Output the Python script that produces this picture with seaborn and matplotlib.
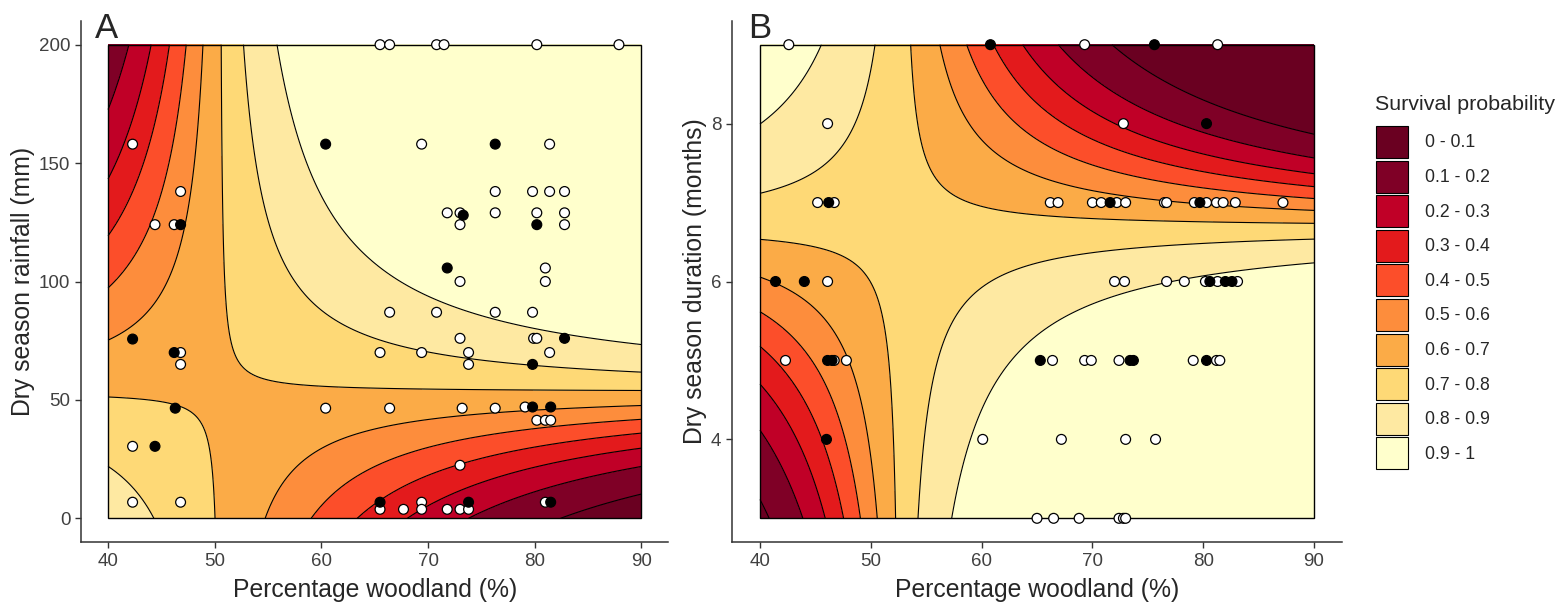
import numpy as np
import pandas as pd
import matplotlib.pyplot as plt
import seaborn as sns
from matplotlib.patches import Patch, Rectangle

# klassen survival probability en kleuren
prob_breaks = [0, 0.1, 0.2, 0.3, 0.4, 0.5, 0.6, 0.7, 0.8, 0.9, 1.0]
class_labels = ['0 - 0.1', '0.1 - 0.2', '0.2 - 0.3', '0.3 - 0.4', '0.4 - 0.5',
                '0.5 - 0.6', '0.6 - 0.7', '0.7 - 0.8', '0.8 - 0.9', '0.9 - 1']
class_colours = ['#6a0021', '#7f0026', '#c00027', '#e31a1c', '#fc4e2a',
                 '#fd8d3c', '#fbab47', '#fed976', '#fee9a2', '#ffffcc']

# logistische modellen: intercept, woodland, y-variabele, interactie
coef_rain = [5.55, -0.094, -0.0888, 0.00176]
coef_dur = [-24.55, 0.484, 3.82, -0.0724]

woodland_range = [40, 90]
rain_range = [0, 200]
dur_range = [3, 9]

# paneel A: punten (overleefd = open, dood = zwart)
a_surv_x = [42.3, 46.8, 44.4, 46.2, 65.5, 66.4, 70.8, 71.5, 80.2, 87.9, 69.4, 81.4,
            76.3, 79.8, 81.4, 82.8, 71.8, 73.0, 73.0, 76.3, 80.2, 82.8, 82.8, 73.0,
            81.0, 81.0, 66.4, 70.8, 76.3, 79.8, 73.0, 79.9, 80.2, 65.5, 69.4, 73.8,
            81.4, 73.8, 60.4, 66.4, 73.2, 76.3, 79.1, 80.2, 81.0, 81.5, 73.0, 65.5,
            67.7, 69.4, 69.4, 71.8, 73.0, 73.8, 81.0, 46.8, 46.8, 42.3, 42.3, 46.8]
a_surv_y = [158, 138, 124, 124, 200, 200, 200, 200, 200, 200, 158, 158,
            138, 138, 138, 138, 129, 129, 124, 129, 129, 129, 124, 100,
            105.7, 100, 87, 87, 87, 87, 76, 76, 76, 70, 70, 70,
            70, 65, 46.5, 46.5, 46.5, 46.5, 47, 41.4, 41.4, 41.4, 22.4, 3.8,
            3.8, 6.8, 3.8, 3.8, 3.8, 3.8, 6.8, 70, 65, 30.4, 6.8, 6.8]
a_dead_x = [46.8, 60.4, 76.3, 73.3, 80.2, 71.8, 82.8, 79.8, 79.8, 81.5, 65.5, 73.8,
            81.5, 42.3, 46.2, 46.3, 44.4]
a_dead_y = [124, 158, 158, 128, 124, 105.7, 76, 65, 47, 47, 6.8, 6.8,
            6.8, 75.7, 70, 46.5, 30.4]

# paneel B: punten
b_surv_x = [42.6, 69.3, 81.3, 46.1, 72.8, 45.2, 46.7, 46.1, 42.3, 46.7, 47.8, 60.1,
            66.2, 66.9, 70.0, 70.8, 72.2, 73.0, 76.5, 76.7, 79.2, 80.3, 81.2, 81.8, 82.9, 87.2,
            72.0, 72.9, 76.7, 78.3, 80.2, 81.3, 83.1,
            66.4, 69.3, 69.9, 72.4, 79.1, 81.2, 81.5,
            67.2, 73.0, 75.7,
            65.0, 66.5, 68.8, 72.4, 72.8, 73.0]
b_surv_y = [9, 9, 9, 8, 8, 7, 7, 6, 5, 5, 5, 4,
            7, 7, 7, 7, 7, 7, 7, 7, 7, 7, 7, 7, 7, 7,
            6, 6, 6, 6, 6, 6, 6,
            5, 5, 5, 5, 5, 5, 5,
            4, 4, 4,
            3, 3, 3, 3, 3, 3]
b_dead_x = [60.8, 75.6, 80.3, 46.2, 41.4, 44.0, 46.1, 46.5, 46.0, 71.6, 79.7,
            80.6, 82.0, 82.6, 65.3, 73.4, 73.7, 80.3]
b_dead_y = [9, 9, 8, 7, 6, 6, 5, 5, 4, 7, 7,
            6, 6, 6, 5, 5, 5, 5]


def survival(x, y, coef):
    eta = coef[0] + coef[1] * x + coef[2] * y + coef[3] * x * y
    return 1 / (1 + np.exp(-eta))


def draw_panel(ax, y_range, coef, surv_x, surv_y, dead_x, dead_y, ylabel, yticks):
    xs = np.linspace(woodland_range[0], woodland_range[1], 400)
    ys = np.linspace(y_range[0], y_range[1], 400)
    X, Y = np.meshgrid(xs, ys)
    P = survival(X, Y, coef)

    ax.contourf(X, Y, P, levels=prob_breaks, colors=class_colours, zorder=1)
    ax.contour(X, Y, P, levels=prob_breaks[1:-1], colors='black', linewidths=0.8, zorder=2)
    ax.add_patch(Rectangle((xs[0], ys[0]), xs[-1] - xs[0], ys[-1] - ys[0],
                           fill=False, edgecolor='black', linewidth=1.0, zorder=3))

    pts = pd.DataFrame({
        'x': surv_x + dead_x,
        'y': surv_y + dead_y,
        'status': ['survived'] * len(surv_x) + ['died'] * len(dead_x),
    })
    sns.scatterplot(data=pts, x='x', y='y', hue='status',
                    palette={'survived': 'white', 'died': 'black'},
                    edgecolor='black', linewidth=0.9, s=50, legend=False,
                    ax=ax, zorder=4, clip_on=False)

    dx = (woodland_range[1] - woodland_range[0]) * 0.05
    dy = (y_range[1] - y_range[0]) * 0.05
    ax.set_xlim(woodland_range[0] - dx, woodland_range[1] + dx)
    ax.set_ylim(y_range[0] - dy, y_range[1] + dy)
    ax.set_xticks([40, 50, 60, 70, 80, 90])
    ax.set_yticks(yticks)
    ax.set_xlabel('Percentage woodland (%)', fontsize=17.8, labelpad=6)
    ax.set_ylabel(ylabel, fontsize=17.8, labelpad=3)
    ax.tick_params(labelsize=13.5, colors='#404040', length=4, width=1.0, pad=4)
    ax.tick_params(color='#333333')
    sns.despine(ax=ax)
    for s in ['left', 'bottom']:
        ax.spines[s].set_linewidth(1.1)
        ax.spines[s].set_color('#333333')


sns.set_style('ticks')
plt.rcParams['font.family'] = ['Liberation Sans', 'DejaVu Sans']

W, H = 1558, 605
fig = plt.figure(figsize=(W / 100, H / 100), dpi=100)

ax_a = fig.add_axes([81.4 / W, 1 - 542 / H, (668 - 81.4) / W, (542 - 21) / H])
ax_b = fig.add_axes([732.3 / W, 1 - 542 / H, (1341.7 - 732.3) / W, (542 - 21) / H])

draw_panel(ax_a, rain_range, coef_rain, a_surv_x, a_surv_y, a_dead_x, a_dead_y,
           'Dry season rainfall (mm)', [0, 50, 100, 150, 200])
draw_panel(ax_b, dur_range, coef_dur, b_surv_x, b_surv_y, b_dead_x, b_dead_y,
           'Dry season duration (months)', [4, 6, 8])

fig.text(95 / W, 1 - 38 / H, 'A', fontsize=25, va='baseline')
fig.text(748 / W, 1 - 38 / H, 'B', fontsize=25, va='baseline')

# legenda
fig.text(1375 / W, 1 - 105 / H, 'Survival probability', fontsize=15.4, va='center', ha='left')
handles = [Patch(facecolor=c, edgecolor='black', linewidth=0.8) for c in class_colours]
fig.legend(handles, class_labels, loc='upper left', bbox_to_anchor=(1376 / W, 1 - 126 / H),
           frameon=False, fontsize=12.7, handlelength=1.8, handleheight=2.41,
           labelspacing=0.15, handletextpad=1.0, borderpad=0, borderaxespad=0)

fig.savefig('out.png', dpi=100)
